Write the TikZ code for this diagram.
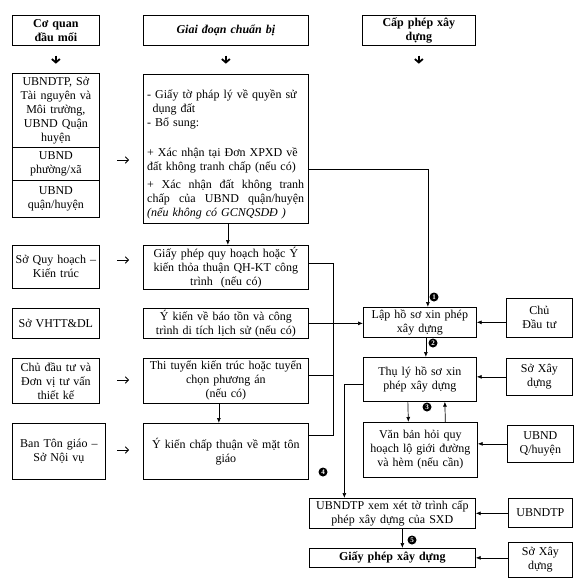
\documentclass[tikz,border=0pt]{standalone}
\usepackage{fontspec}
\setmainfont{Liberation Serif}
\usetikzlibrary{arrows.meta}
\newcommand*\boxfont{\fontsize{12}{14}\selectfont}
\tikzset{box/.style 2 args={
    draw,
    line width=0.7pt,
    rectangle,
    anchor=north west,
    inner sep=1pt,
    minimum width=#1,
    minimum height=#2,
    text width=#1-2pt,
    align=center,
    font=\boxfont
}}
\tikzset{link/.style={-{Latex[length=5pt,width=4pt]}, line width=0.7pt}}
\tikzset{gap/.style={-{Straight Barb[length=3pt,width=6.5pt]}, line width=0.9pt}}
\tikzset{down/.style={-{Straight Barb[length=3.5pt,width=8pt]}, line width=1.8pt, shorten <=10pt, shorten >=10pt}}
\tikzset{num/.style={circle, fill=black, text=white, inner sep=0pt, minimum size=9pt,
    font=\bfseries\fontsize{7}{7}\selectfont}}

\begin{document}
\begin{tikzpicture}[x=1pt,y=-1pt]
    \useasboundingbox (0,0) rectangle (582,587);

    % Column headers.
    \node[box={87}{30}] (hdcq) at (12,15) {\textbf{Cơ quan\\đầu mối}};
    \node[box={165}{30}] (hdgd) at (143,15) {\textbf{\itshape Giai đoạn chuẩn bị}};
    \node[box={113}{30}] (hdcp) at (362,15) {\textbf{Cấp phép xây\\dựng}};
    \draw[down] (hdcq.south) -- ++(0,28);
    \draw[down] (hdgd.south) -- ++(0,28);
    \draw[down] (hdcp.south) -- ++(0,28);

    % First column.
    \node[box={87}{74}] (ubtn) at (12,73) {UBNDTP, Sở\\Tài nguyên và\\Môi trường,\\UBND Quận\\huyện};
    \node[box={87}{33}] (ubpx) at (12,147) {UBND\\phường/xã};
    \node[box={87}{37}] (ubqh) at (12,180) {UBND\\quận/huyện};
    \node[box={87}{43}] (soqh) at (12,245) {Sở Quy hoạch –\\Kiến trúc};
    \node[box={87}{30}] (sovh) at (12,308) {Sở VHTT\&DL};
    \node[box={87}{45}] (cdtv) at (12,358) {Chủ đầu tư và\\Đơn vị tư vấn\\thiết kế};
    \node[box={93}{56}] (bantg) at (12,423) {Ban Tôn giáo –\\Sở Nội vụ};

    % Second column.
    \node[box={165}{149}] (giayto) at (143,74) {};
    \node[anchor=north west, inner sep=0pt, text width=158pt, align=left, font=\boxfont]
        (giaytotext) at (147,90) {- Giấy tờ pháp lý về quyền sử\\
        \hspace*{0.45em}dụng đất\\
        - Bổ sung:\\[16pt]
        + Xác nhận tại Đơn XPXD về\\
        đất không tranh chấp (nếu có)\\[4pt]
        \leavevmode\hbox to 157pt{+\hfill Xác\hfill nhận\hfill đất\hfill không\hfill tranh}\\
        \leavevmode\hbox to 157pt{chấp\hfill của\hfill UBND\hfill quận/huyện}\\
        \textit{(nếu không có GCNQSDĐ )}};
    \node[box={165}{44}] (gpqh) at (143,245) {Giấy phép quy hoạch hoặc Ý\\kiến thỏa thuận QH-KT công\\trình\ \ (nếu có)};
    \node[box={165}{30}] (ykbt) at (143,308) {Ý kiến về báo tồn và công\\trình di tích lịch sử (nếu có)};
    \node[box={165}{45}] (thtk) at (143,358) {Thi tuyển kiến trúc hoặc tuyển\\chọn phương án\\(nếu có)};
    \node[box={165}{56}] (yktg) at (143,423) {Ý kiến chấp thuận về mặt tôn\\giáo};

    % Arrows between the first two columns.
    \draw[gap] ([xshift=-26]giayto.west |- 0,160) -- ([xshift=-14]giayto.west |- 0,160);
    \draw[gap] ([xshift=-26]gpqh.west |- 0,260) -- ([xshift=-14]gpqh.west |- 0,260);
    \draw[gap] ([xshift=-26]thtk.west |- 0,380) -- ([xshift=-14]thtk.west |- 0,380);
    \draw[gap] ([xshift=-26]yktg.west |- 0,450) -- ([xshift=-14]yktg.west |- 0,450);
    \draw[link] ([xshift=2]giayto.south) -- ([xshift=2]gpqh.north);
    \draw[link] ([xshift=-7]thtk.south) -- ([xshift=-7]yktg.north);

    % Third column.
    \node[box={113}{30}] (laphs) at (363,307) {Lập hồ sơ xin phép\\xây dựng};
    \node[box={113}{44}] (thuly) at (363,357) {Thụ lý hồ sơ xin\\phép xây dựng\\[10pt]};
    \node[box={114}{55}] (vanban) at (363,422) {Văn bản hỏi quy\\hoạch lộ giới đường\\và hèm (nếu cần)};
    \node[box={166}{30}] (xemxet) at (309,498) {UBNDTP xem xét tờ trình cấp\\phép xây dựng của SXD};
    \node[box={166}{19}] (giayphep) at (309,548) {\textbf{Giấy phép xây dựng}};

    % Fourth column.
    \node[box={66}{39}] (chudt) at (506,298) {Chủ\\Đầu tư};
    \node[box={66}{37}] (soxd) at (506,358) {Sở Xây\\dựng};
    \node[box={66}{37}] (ubndq) at (507,425) {UBND\\Q/huyện};
    \node[box={64}{29}] (ubtp) at (508,498) {UBNDTP};
    \node[box={64}{35}] (soxdb) at (508,542) {Sở Xây\\dựng};

    % Collecting line on the right of the second column.
    \coordinate (bustop) at (333,263);
    \coordinate (busend) at (333,435);
    \draw[line width=0.7pt] (gpqh.east |- bustop) -- (bustop) -- (busend) -- (yktg.east |- busend);
    \draw[line width=0.7pt] (thtk.east |- 0,375) -- (bustop |- 0,375);
    \draw[link] (ykbt.east) -- (laphs.west |- ykbt.east);

    % Numbered steps.
    \draw[link] (giayto.east |- 0,169) -| ([xshift=8]laphs.north);
    \node[num] (stepa) at (434,297) {1};
    \draw[link] ([xshift=6]laphs.south) -- ([xshift=6]laphs.south |- thuly.north);
    \node[num] (stepb) at (433,343) {2};
    \draw[link] ([xshift=-12]thuly.south) -- ([xshift=-12]vanban.north);
    \draw[link] ([xshift=25]vanban.north) -- ([xshift=25]thuly.south);
    \node[num] (stepc) at (427,407) {3};
    \draw[link] ([yshift=-5]thuly.west) -| ([xshift=-48]xemxet.north);
    \node[num] (stepd) at (323,472) {4};
    \draw[link] ([xshift=10]xemxet.south) -- ([xshift=10]giayphep.north);
    \node[num] (stepe) at (412,540) {5};

    % Arrows from the fourth column.
    \draw[link] (chudt.west |- laphs.east) -- (laphs.east);
    \draw[link] (soxd.west) -- (thuly.east |- soxd.west);
    \draw[link] (ubndq.west) -- (vanban.east |- ubndq.west);
    \draw[link] (ubtp.west |- xemxet.east) -- (xemxet.east);
    \draw[link] (soxdb.west |- giayphep.east) -- (giayphep.east);

\end{tikzpicture}
\end{document}
